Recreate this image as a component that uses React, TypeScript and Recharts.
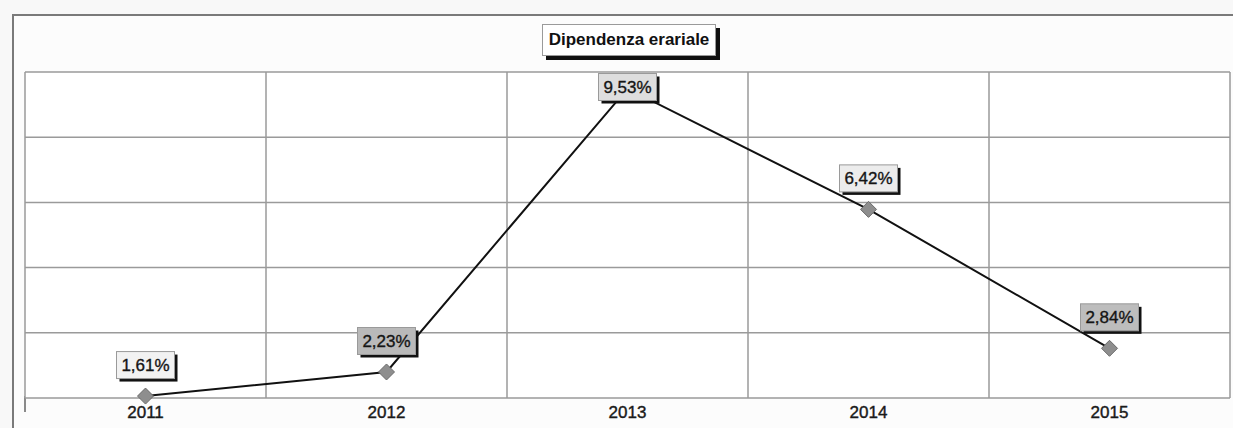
import React from "react";
import {
  LineChart,
  Line,
  XAxis,
  YAxis,
  CartesianGrid,
  ReferenceLine,
  LabelList,
} from "recharts";

const years = [2011, 2012, 2013, 2014, 2015];
const dipendenza = [1.61, 2.23, 9.53, 6.42, 2.84];
const yTicks = [1.56, 3.24, 4.92, 6.6, 8.28, 9.96];

const chartTitle = "Dipendenza erariale";

// box fills of the data labels, as they look on the scan
const labelFills = ["#f2f2f2", "#b9b9b9", "#dedede", "#ececec", "#bdbdbd"];

const data = years.map((year, i) => ({ year, value: dipendenza[i] }));
const bandEdges = [...years.map((y) => y - 0.5), years[years.length - 1] + 0.5];

const W = 1233;
const H = 428;
const PLOT_TOP = 72;
const FONT = "'Liberation Sans', Arial, sans-serif";

const fmt = (v: number) => v.toFixed(2).replace(".", ",") + "%";

const Diamond = (props: any) => {
  const { cx, cy } = props;
  if (cx == null || cy == null) return null;
  const r = 8;
  return (
    <polygon
      points={`${cx},${cy - r} ${cx + r},${cy} ${cx},${cy + r} ${cx - r},${cy}`}
      fill="#8e8e8e"
      stroke="#6a6a6a"
      strokeWidth={1}
    />
  );
};

const ValueLabel = (props: any) => {
  const { x, y, value, index } = props;
  const w = 58;
  const h = 27;
  const cy = Math.max(y - 31, PLOT_TOP + 15);
  return (
    <g>
      <rect x={x - w / 2 + 3} y={cy - h / 2 + 3} width={w} height={h} fill="#111" />
      <rect
        x={x - w / 2}
        y={cy - h / 2}
        width={w}
        height={h}
        fill={labelFills[index]}
        stroke="#9a9a9a"
        strokeWidth={1}
      />
      <text
        x={x}
        y={cy + 6}
        textAnchor="middle"
        fontFamily={FONT}
        fontSize={17}
        fill="#151515"
        stroke="#151515"
        strokeWidth={0.35}
      >
        {fmt(value)}
      </text>
    </g>
  );
};

const YearTick = (props: any) => {
  const { x, y, payload } = props;
  return (
    <text
      x={x}
      y={y + 20}
      textAnchor="middle"
      fontFamily={FONT}
      fontSize={17}
      fill="#1a1a1a"
      stroke="#1a1a1a"
      strokeWidth={0.4}
    >
      {payload.value}
    </text>
  );
};

export default function App() {
  return (
    <div
      style={{
        position: "absolute",
        left: 0,
        top: 0,
        width: W,
        height: H,
        background: "#f8f8f8",
        overflow: "hidden",
      }}
    >
      {/* outer chart frame */}
      <div
        style={{
          position: "absolute",
          left: 12,
          top: 14,
          width: W + 20,
          height: H,
          borderLeft: "2px solid #7a7a7a",
          borderTop: "2px solid #7a7a7a",
          background: "#fcfcfc",
        }}
      />
      <div
        style={{
          position: "absolute",
          left: 24,
          top: 396,
          width: 2,
          height: 16,
          background: "#8a8a8a",
        }}
      />
      <div style={{ position: "absolute", left: 0, top: 0 }}>
        <LineChart
          width={W}
          height={H}
          data={data}
          margin={{ top: PLOT_TOP, right: 3, left: 25, bottom: 0 }}
        >
          <CartesianGrid
            vertical={false}
            stroke="#9a9a9a"
            strokeWidth={1.5}
            fill="#ffffff"
            fillOpacity={1}
          />
          {bandEdges.map((e) => (
            <ReferenceLine key={e} x={e} stroke="#9a9a9a" strokeWidth={1.5} />
          ))}
          <XAxis
            dataKey="year"
            type="number"
            domain={[bandEdges[0], bandEdges[bandEdges.length - 1]]}
            ticks={years}
            height={30}
            tickSize={0}
            tickMargin={0}
            axisLine={false}
            tickLine={false}
            tick={<YearTick />}
            interval={0}
          />
          <YAxis hide domain={[yTicks[0], yTicks[yTicks.length - 1]]} ticks={yTicks} />
          <Line
            dataKey="value"
            stroke="#111"
            strokeWidth={2}
            dot={<Diamond />}
            activeDot={false}
            isAnimationActive={false}
          >
            <LabelList dataKey="value" content={<ValueLabel />} />
          </Line>
        </LineChart>
      </div>
      {/* title box */}
      <div
        style={{
          position: "absolute",
          left: 542,
          top: 24,
          width: 174,
          height: 32,
          background: "#ffffff",
          border: "1px solid #9a9a9a",
          boxShadow: "4px 4px 0 #111",
          boxSizing: "border-box",
          display: "flex",
          alignItems: "center",
          justifyContent: "center",
          fontFamily: FONT,
          fontWeight: 700,
          fontSize: 17,
          color: "#111",
        }}
      >
        {chartTitle}
      </div>
    </div>
  );
}
